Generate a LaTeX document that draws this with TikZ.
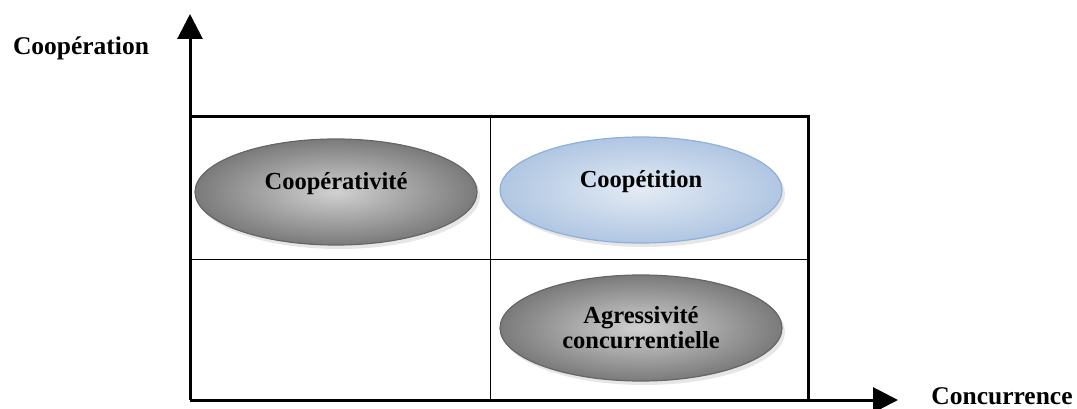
\documentclass[tikz,border=0pt]{standalone}
\usepackage{fontspec}
\setmainfont{Liberation Serif}
\usepackage{xcolor}
\usetikzlibrary{shapes.geometric, arrows.meta, shadows}
\definecolor{bluefill}{HTML}{DCE6F2}
\definecolor{blueedge}{HTML}{8EB0DA}
\definecolor{bluedark}{HTML}{B0C6E2}

\begin{document}
\begin{tikzpicture}[x=1pt,y=-1pt]
\tikzset{
  el/.style={ellipse,minimum width=282pt,minimum height=106pt,inner sep=0pt,align=center,
    font=\fontsize{24.5}{25}\selectfont\bfseries,draw=black!60,line width=1.2pt,
    inner color=black!18,outer color=black!52,
    drop shadow={opacity=0.2,shadow xshift=3pt,shadow yshift=-4pt}},
  elb/.style={el,draw=blueedge,inner color=bluefill!80,outer color=bluedark},
  up/.style={text depth=22pt},
  ax/.style={-{Triangle[length=25pt,width=25pt]},line width=3pt},
  lb/.style={font=\fontsize{25.5}{27}\selectfont\bfseries},
  thin/.style={line width=1pt}
}
\useasboundingbox (0,0) rectangle (1077,409);
\coordinate (o) at (190,400);
\coordinate (ytip) at (190,14);
\coordinate (xtip) at (898,400);
\coordinate (tl) at (190,117);
\coordinate (tr) at (808,117);
\coordinate (br) at (808,400);
% grid
\draw[thin] (490,117) -- (490,400);
\draw[thin] (190,259) -- (808,259);
\draw[line width=3pt] (tl) -- (tr) -- (br);
% axes
\draw[ax] (o) -- (ytip);
\draw[ax] (o) -- (xtip);
\node[lb] (yl) at (81,48) {Coopération};
\node[lb] (xl) at (1002,396) {Concurrence};
% quadrants
\node[el,up] (coop) at (336,192) {Coopérativité};
\node[elb,up] (coopet) at (641,190) {Coopétition};
\node[el] (agr) at (641,328) {Agressivité\\concurrentielle};
\end{tikzpicture}
\end{document}
